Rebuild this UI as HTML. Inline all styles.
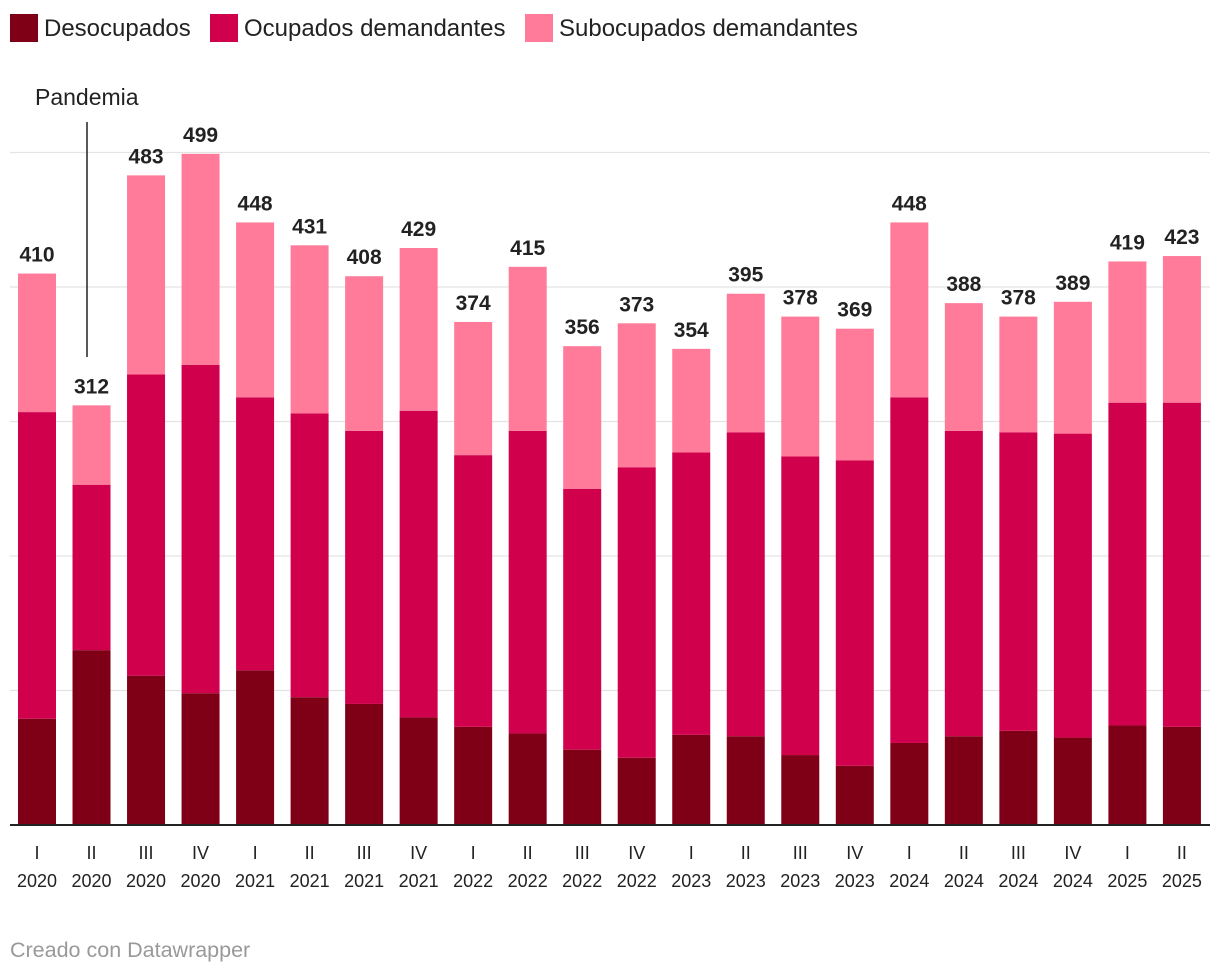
<!DOCTYPE html>
<html><head><meta charset="utf-8"><style>
body{margin:0;background:#fff;font-family:"Liberation Sans",sans-serif;}
svg{display:block}
</style></head><body>
<svg id="chart" width="1220" height="974" xmlns="http://www.w3.org/2000/svg">
<g>
<rect x="10" y="14" width="28" height="28" fill="#7f0016"/>
<text x="44" y="36" font-size="24" fill="#222">Desocupados</text>
<rect x="210" y="14" width="28" height="28" fill="#d1004d"/>
<text x="244" y="36" font-size="24" fill="#222">Ocupados demandantes</text>
<rect x="525" y="14" width="28" height="28" fill="#ff7b99"/>
<text x="559" y="36" font-size="24" fill="#222">Subocupados demandantes</text>
</g>
<g id="grid"></g>
<g id="bars"></g>
<g id="labels"></g>
<line x1="10" x2="1210" y1="825" y2="825" stroke="#222" stroke-width="2"/>
<text x="35" y="105" font-size="23" fill="#222">Pandemia</text>
<line x1="87" x2="87" y1="122" y2="357" stroke="#222" stroke-width="1.5"/>
<text x="10" y="957" font-size="21.5" fill="#999">Creado con Datawrapper</text>
</svg>
<script>
const quarters=["I","II","III","IV","I","II","III","IV","I","II","III","IV","I","II","III","IV","I","II","III","IV","I","II"];
const years=["2020","2020","2020","2020","2021","2021","2021","2021","2022","2022","2022","2022","2023","2023","2023","2023","2024","2024","2024","2024","2025","2025"];
const desocupados=[79,130,111,98,115,95,90,80,73,68,56,50,67,66,52,44,61,66,70,65,74,73];
const ocupados=[228,123,224,244,203,211,203,228,202,225,194,216,210,226,222,227,257,227,222,226,240,241];
const subocupados=[103,59,148,157,130,125,115,121,99,122,106,107,77,103,104,98,130,95,86,98,105,109];
const totals=[410,312,483,499,448,431,408,429,374,415,356,373,354,395,378,369,448,388,378,389,419,423];
const gridTicks=[100,200,300,400,500];
const NS="http://www.w3.org/2000/svg";
const y=v=>825-v*1.345;
const x=i=>18+i*54.52;
const bw=38;
function mk(t,a){const e=document.createElementNS(NS,t);for(const k in a)e.setAttribute(k,a[k]);return e;}
const grid=document.getElementById('grid'),bars=document.getElementById('bars'),labels=document.getElementById('labels');
gridTicks.forEach(t=>{const l=mk('line',{x1:10,x2:1210,y1:y(t),y2:y(t),stroke:'#e3e3e3','stroke-width':1.3});


grid.appendChild(l);});
const series=[[desocupados,'#7f0016','desocupados'],[ocupados,'#d1004d','ocupados'],[subocupados,'#ff7b99','subocupados']];
quarters.forEach((q,i)=>{
 let base=0;
 series.forEach(([arr,c,n])=>{
  const r=mk('rect',{x:x(i),width:bw,y:y(base+arr[i]),height:arr[i]*1.345,fill:c});
  
  
  bars.appendChild(r);base+=arr[i];
 });
 const cx=x(i)+bw/2;
 const tl=mk('text',{x:cx,y:y(totals[i])-12,'font-size':21,'font-weight':'bold','text-anchor':'middle',fill:'#222'});
 tl.textContent=totals[i];
 
 
 labels.appendChild(tl);
 const ql=mk('text',{x:cx,y:859,'font-size':18,'text-anchor':'middle',fill:'#222'});
 ql.textContent=q;
 
 
 labels.appendChild(ql);
 const yl=mk('text',{x:cx,y:887,'font-size':18,'text-anchor':'middle',fill:'#222'});
 yl.textContent=years[i];
 
 
 labels.appendChild(yl);
});
</script>
</body></html>
